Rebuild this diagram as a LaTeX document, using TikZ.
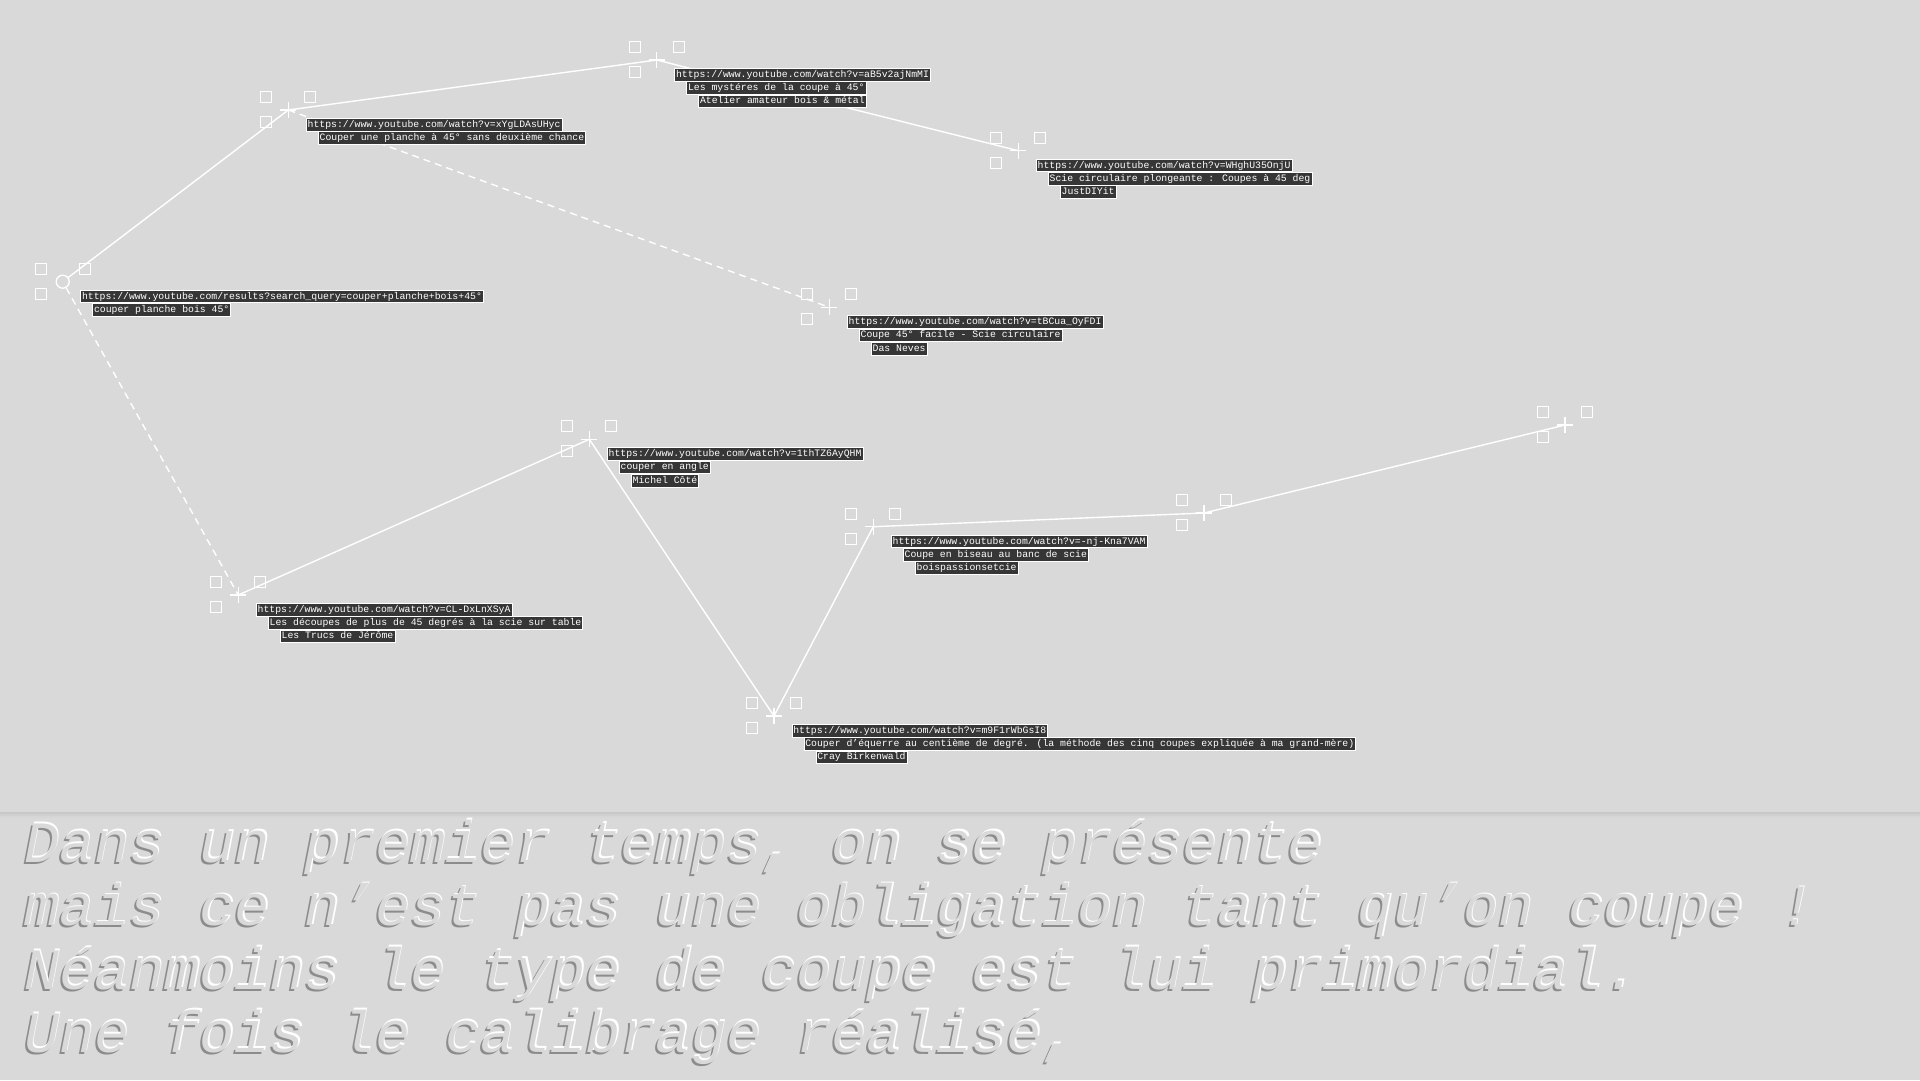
\documentclass[tikz,border=0pt]{standalone}
\usepackage{fontspec}
\newfontfamily\labfont{Liberation Mono}
\newfontfamily\bigfont{Liberation Mono}
\definecolor{bgcol}{HTML}{D9D9D9}
\definecolor{labbg}{HTML}{363636}
\definecolor{shade}{HTML}{8C8C8C}
\begin{document}
\begin{tikzpicture}[x=1pt,y=-1pt,
  edge/.style={draw=white,line width=1.4pt},
  dashedge/.style={edge,dash pattern=on 7pt off 5pt},
  sq/.style={draw=white,line width=1.3pt},
  mk/.style={shape=coordinate},
  lab/.style={fill=labbg,draw=white,line width=0.7pt,text=white,
    font=\labfont\fontsize{9.8}{10}\selectfont,inner xsep=1.5pt,inner ysep=1.4pt,
    anchor=north west,text height=7.6pt,text depth=2.2pt},
  big/.style={font=\bigfont\itshape\fontsize{58.5}{63.3}\selectfont,anchor=base west,
    inner sep=0pt,align=left},
]
\fill[bgcol] (0,0) rectangle (1920,1080);
\useasboundingbox (0,0) rectangle (1920,1080);
% separator with soft shadow
\fill[bgcol!92!black] (0,811.5) rectangle (1920,813.5);
\fill[bgcol!96!black] (0,813.5) rectangle (1920,815.5);
\fill[bgcol!98.5!black] (0,815.5) rectangle (1920,817.5);

% markers
\node[circle,draw=white,line width=1.3pt,minimum size=13pt,inner sep=0pt] (n0) at (62.7,281.7) {};
\node[mk] (n1) at (288.3,110) {};
\node[mk] (n2) at (656.7,60) {};
\node[mk] (n3) at (1018.3,150.7) {};
\node[mk] (n4) at (829.3,307.3) {};
\node[mk] (n5) at (589.3,439.3) {};
\node[mk] (n6) at (238.3,595) {};
\node[mk] (n7) at (873.3,526.7) {};
\node[mk] (n8) at (774,716) {};
\node[mk] (n9) at (1204,513) {};
\node[mk] (n10) at (1565,425) {};

% connectors
\draw[edge] (n0) -- (n1);
\draw[edge] (n1) -- (n2);
\draw[edge] (n2) -- (n3);
\draw[dashedge] (n1) -- (n4);
\draw[dashedge] (n0) -- (n6);
\draw[edge] (n6) -- (n5);
\draw[edge] (n5) -- (n8);
\draw[edge] (n8) -- (n7);
\draw[edge] (n7) -- (n9);
\draw[edge] (n9) -- (n10);

\foreach \n in {n0,n1,n2,n3,n4,n5,n6,n7,n8,n9,n10}{
  \draw[sq] (\n.center) ++(-27.5,-18.5) rectangle ++(11,11);
  \draw[sq] (\n.center) ++(16.5,-18.5) rectangle ++(11,11);
  \draw[sq] (\n.center) ++(-27.5,6.5) rectangle ++(11,11);
}
\foreach \n in {n1,n2,n3,n4,n5,n6,n7,n8,n9,n10}{
  \draw[edge] (\n) ++(-8,0) -- ++(16,0);
  \draw[edge] (\n) ++(0,-8) -- ++(0,16);
}

% labels
\node[lab] (l0a) at ([shift={(17.5,8)}]n0.center) {https://www.youtube.com/results?search\_query=couper+planche+bois+45°};
\node[lab] (l0b) at ([shift={(29.5,21.3)}]n0.center) {couper planche bois 45°};

\node[lab] (l1a) at ([shift={(17.5,8)}]n1.center) {https://www.youtube.com/watch?v=xYgLDAsUHyc};
\node[lab] (l1b) at ([shift={(29.5,21.3)}]n1.center) {Couper une planche à 45° sans deuxième chance};

\node[lab] (l2a) at ([shift={(17.5,8)}]n2.center) {https://www.youtube.com/watch?v=aB5v2ajNmMI};
\node[lab] (l2b) at ([shift={(29.5,21.3)}]n2.center) {Les mystéres de la coupe à 45°};
\node[lab] (l2c) at ([shift={(41.5,34.6)}]n2.center) {Atelier amateur bois \& métal};

\node[lab] (l3a) at ([shift={(17.5,8)}]n3.center) {https://www.youtube.com/watch?v=WHghU35OnjU};
\node[lab] (l3b) at ([shift={(29.5,21.3)}]n3.center) {Scie circulaire plongeante : Coupes à 45 deg};
\node[lab] (l3c) at ([shift={(41.5,34.6)}]n3.center) {JustDIYit};

\node[lab] (l4a) at ([shift={(17.5,8)}]n4.center) {https://www.youtube.com/watch?v=tBCua\_OyFDI};
\node[lab] (l4b) at ([shift={(29.5,21.3)}]n4.center) {Coupe 45° facile - Scie circulaire};
\node[lab] (l4c) at ([shift={(41.5,34.6)}]n4.center) {Das Neves};

\node[lab] (l5a) at ([shift={(17.5,8)}]n5.center) {https://www.youtube.com/watch?v=1thTZ6AyQHM};
\node[lab] (l5b) at ([shift={(29.5,21.3)}]n5.center) {couper en angle};
\node[lab] (l5c) at ([shift={(41.5,34.6)}]n5.center) {Michel Côté};

\node[lab] (l6a) at ([shift={(17.5,8)}]n6.center) {https://www.youtube.com/watch?v=CL-DxLnXSyA};
\node[lab] (l6b) at ([shift={(29.5,21.3)}]n6.center) {Les découpes de plus de 45 degrés à la scie sur table};
\node[lab] (l6c) at ([shift={(41.5,34.6)}]n6.center) {Les Trucs de Jérôme};

\node[lab] (l7a) at ([shift={(17.5,8)}]n7.center) {https://www.youtube.com/watch?v=-nj-Kna7VAM};
\node[lab] (l7b) at ([shift={(29.5,21.3)}]n7.center) {Coupe en biseau au banc de scie};
\node[lab] (l7c) at ([shift={(41.5,34.6)}]n7.center) {boispassionsetcie};

\node[lab] (l8a) at ([shift={(17.5,8)}]n8.center) {https://www.youtube.com/watch?v=m9F1rWbGsI8};
\node[lab] (l8b) at ([shift={(29.5,21.3)}]n8.center) {Couper d’équerre au centième de degré. (la méthode des cinq coupes expliquée à ma grand-mère)};
\node[lab] (l8c) at ([shift={(41.5,34.6)}]n8.center) {Cray Birkenwald};

% bottom embossed text (shadow, highlight, face)
\foreach \dx/\dy/\c in {-2/2/shade,1.5/-1.5/white,0/0/bgcol}{
  \node[big,text=\c,anchor=north west] at (24+\dx,813.5+\dy) {\vphantom{Ĺ}Dans un premier temps, on se présente\\
    mais ce n’est pas une obligation tant qu’on coupe !\\
    Néanmoins le type de coupe est lui primordial.\\
    Une fois le calibrage réalisé,};
}
\end{tikzpicture}
\end{document}
